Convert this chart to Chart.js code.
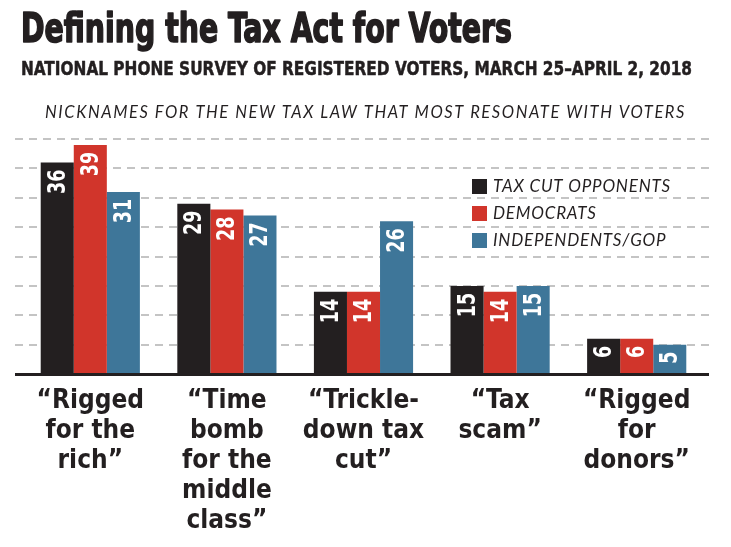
<!DOCTYPE html>
<html>
<head>
<meta charset="utf-8">
<script src="https://cdn.jsdelivr.net/npm/chart.js@4"></script>
<style>
  html, body { margin: 0; padding: 0; background: #fff; }
  #wrap { width: 731px; height: 547px; position: relative; }
</style>
</head>
<body>
<div id="wrap"><canvas id="barChart"></canvas></div>
<script>
// data
var categories = [
  ['\u201cRigged', 'for the', 'rich\u201d'],
  ['\u201cTime', 'bomb', 'for the', 'middle', 'class\u201d'],
  ['\u201cTrickle-', 'down tax', 'cut\u201d'],
  ['\u201cTax', 'scam\u201d'],
  ['\u201cRigged', 'for', 'donors\u201d']
];
var seriesNames = ['TAX CUT OPPONENTS', 'DEMOCRATS', 'INDEPENDENTS/GOP'];
var opponents = [36, 29, 14, 15, 6];
var democrats = [39, 28, 14, 14, 6];
var independents = [31, 27, 26, 15, 5];
var gridTicks = [5, 10, 15, 20, 25, 30, 35, 40];

var colors = ['#231f20', '#d1352b', '#3e7699'];
var condensed = '"Liberation Sans Narrow", "DejaVu Sans Condensed", "Arial Narrow", sans-serif';
var italicFam = 'Lato, "Open Sans", sans-serif';

// draw text squeezed/stretched to a given width, optional stroke to make it heavier
function fitText(ctx, text, x, y, font, width, color, heavy) {
  ctx.save();
  ctx.font = font;
  ctx.fillStyle = color;
  ctx.strokeStyle = color;
  ctx.textBaseline = 'alphabetic';
  ctx.textAlign = 'left';
  var w = ctx.measureText(text).width;
  ctx.translate(x, y);
  ctx.scale(width / w, 1);
  ctx.fillText(text, 0, 0);
  if (heavy) {
    ctx.lineWidth = heavy;
    ctx.lineJoin = 'round';
    ctx.strokeText(text, 0, 0);
  }
  ctx.restore();
}

// spread text with letter spacing to a given width
function spreadText(ctx, text, x, y, font, width, color) {
  ctx.save();
  ctx.font = font;
  ctx.fillStyle = color;
  ctx.textBaseline = 'alphabetic';
  ctx.textAlign = 'left';
  var w = ctx.measureText(text).width;
  if ('letterSpacing' in ctx) {
    ctx.letterSpacing = ((width - w) / text.length) + 'px';
    ctx.fillText(text, x, y);
  } else {
    ctx.translate(x, y);
    ctx.scale(width / w, 1);
    ctx.fillText(text, 0, 0);
  }
  ctx.restore();
}

var decor = {
  id: 'decor',
  beforeDatasetsDraw: function (chart) {
    var ctx = chart.ctx;
    var y = chart.scales.y;
    ctx.save();
    ctx.strokeStyle = '#c4c4c4';
    ctx.lineWidth = 2;
    ctx.setLineDash([8, 6]);
    gridTicks.forEach(function (v) {
      var py = Math.round(y.getPixelForValue(v));
      ctx.beginPath();
      ctx.moveTo(15, py);
      ctx.lineTo(709, py);
      ctx.stroke();
    });
    ctx.restore();
  },
  afterDatasetsDraw: function (chart) {
    var ctx = chart.ctx;
    var y0 = chart.scales.y.getPixelForValue(0);
    // baseline
    ctx.save();
    ctx.fillStyle = '#231f20';
    ctx.fillRect(15, y0 - 1, 694, 3);
    ctx.restore();

    // value labels inside bars, rotated
    chart.data.datasets.forEach(function (ds, i) {
      var meta = chart.getDatasetMeta(i);
      meta.data.forEach(function (bar, j) {
        ctx.save();
        ctx.translate(bar.x, bar.y + 7);
        ctx.rotate(-Math.PI / 2);
        ctx.scale(0.78, 1);
        ctx.font = 'bold 25px ' + condensed;
        ctx.fillStyle = '#ffffff';
        ctx.textAlign = 'right';
        ctx.textBaseline = 'middle';
        ctx.fillText(String(ds.data[j]), 0, 1);
        ctx.restore();
      });
    });

    // legend
    chart.data.datasets.forEach(function (ds, i) {
      var ly = 179 + i * 27;
      ctx.save();
      ctx.fillStyle = ds.backgroundColor;
      ctx.fillRect(472, ly, 15, 15);
      ctx.restore();
      ctx.save();
      ctx.font = 'italic 17px ' + italicFam;
      ctx.fillStyle = '#231f20';
      if ('letterSpacing' in ctx) ctx.letterSpacing = '0.8px';
      ctx.textBaseline = 'alphabetic';
      ctx.fillText(ds.label, 493, ly + 13);
      ctx.restore();
    });
  },
  afterDraw: function (chart) {
    var ctx = chart.ctx;
    fitText(ctx, 'Defining the Tax Act for Voters', 21, 42, 'bold 40px ' + condensed, 491, '#231f20', 1.6);
    fitText(ctx, 'NATIONAL PHONE SURVEY OF REGISTERED VOTERS, MARCH 25\u2013APRIL 2, 2018', 21, 75, 'bold 20px ' + condensed, 671, '#231f20', 0.5);
    spreadText(ctx, 'NICKNAMES FOR THE NEW TAX LAW THAT MOST RESONATE WITH VOTERS', 45, 118, 'italic 16.5px ' + italicFam, 641, '#231f20');
  }
};

var ctx = document.getElementById('barChart').getContext('2d');
var myChart = new Chart(ctx, {
  type: 'bar',
  data: {
    labels: categories,
    datasets: [
      { label: seriesNames[0], data: opponents, backgroundColor: colors[0] },
      { label: seriesNames[1], data: democrats, backgroundColor: colors[1] },
      { label: seriesNames[2], data: independents, backgroundColor: colors[2] }
    ]
  },
  options: {
    responsive: true,
    maintainAspectRatio: false,
    animation: false,
    devicePixelRatio: 1,
    layout: { padding: { top: 139, left: 22, right: 26, bottom: -1 } },
    datasets: {
      bar: { categoryPercentage: 0.726, barPercentage: 1.0, borderWidth: 0 }
    },
    plugins: {
      legend: { display: false },
      title: { display: false },
      tooltip: { enabled: false }
    },
    scales: {
      x: {
        grid: { display: false, drawTicks: false },
        border: { display: false },
        ticks: {
          color: '#231f20',
          padding: 12,
          autoSkip: false,
          maxRotation: 0,
          font: { family: condensed, size: 26, weight: 'bold', lineHeight: 30 / 26 }
        }
      },
      y: {
        display: false,
        min: 0,
        max: 40,
        ticks: { stepSize: 5 }
      }
    }
  },
  plugins: [decor]
});
</script>
</body>
</html>
